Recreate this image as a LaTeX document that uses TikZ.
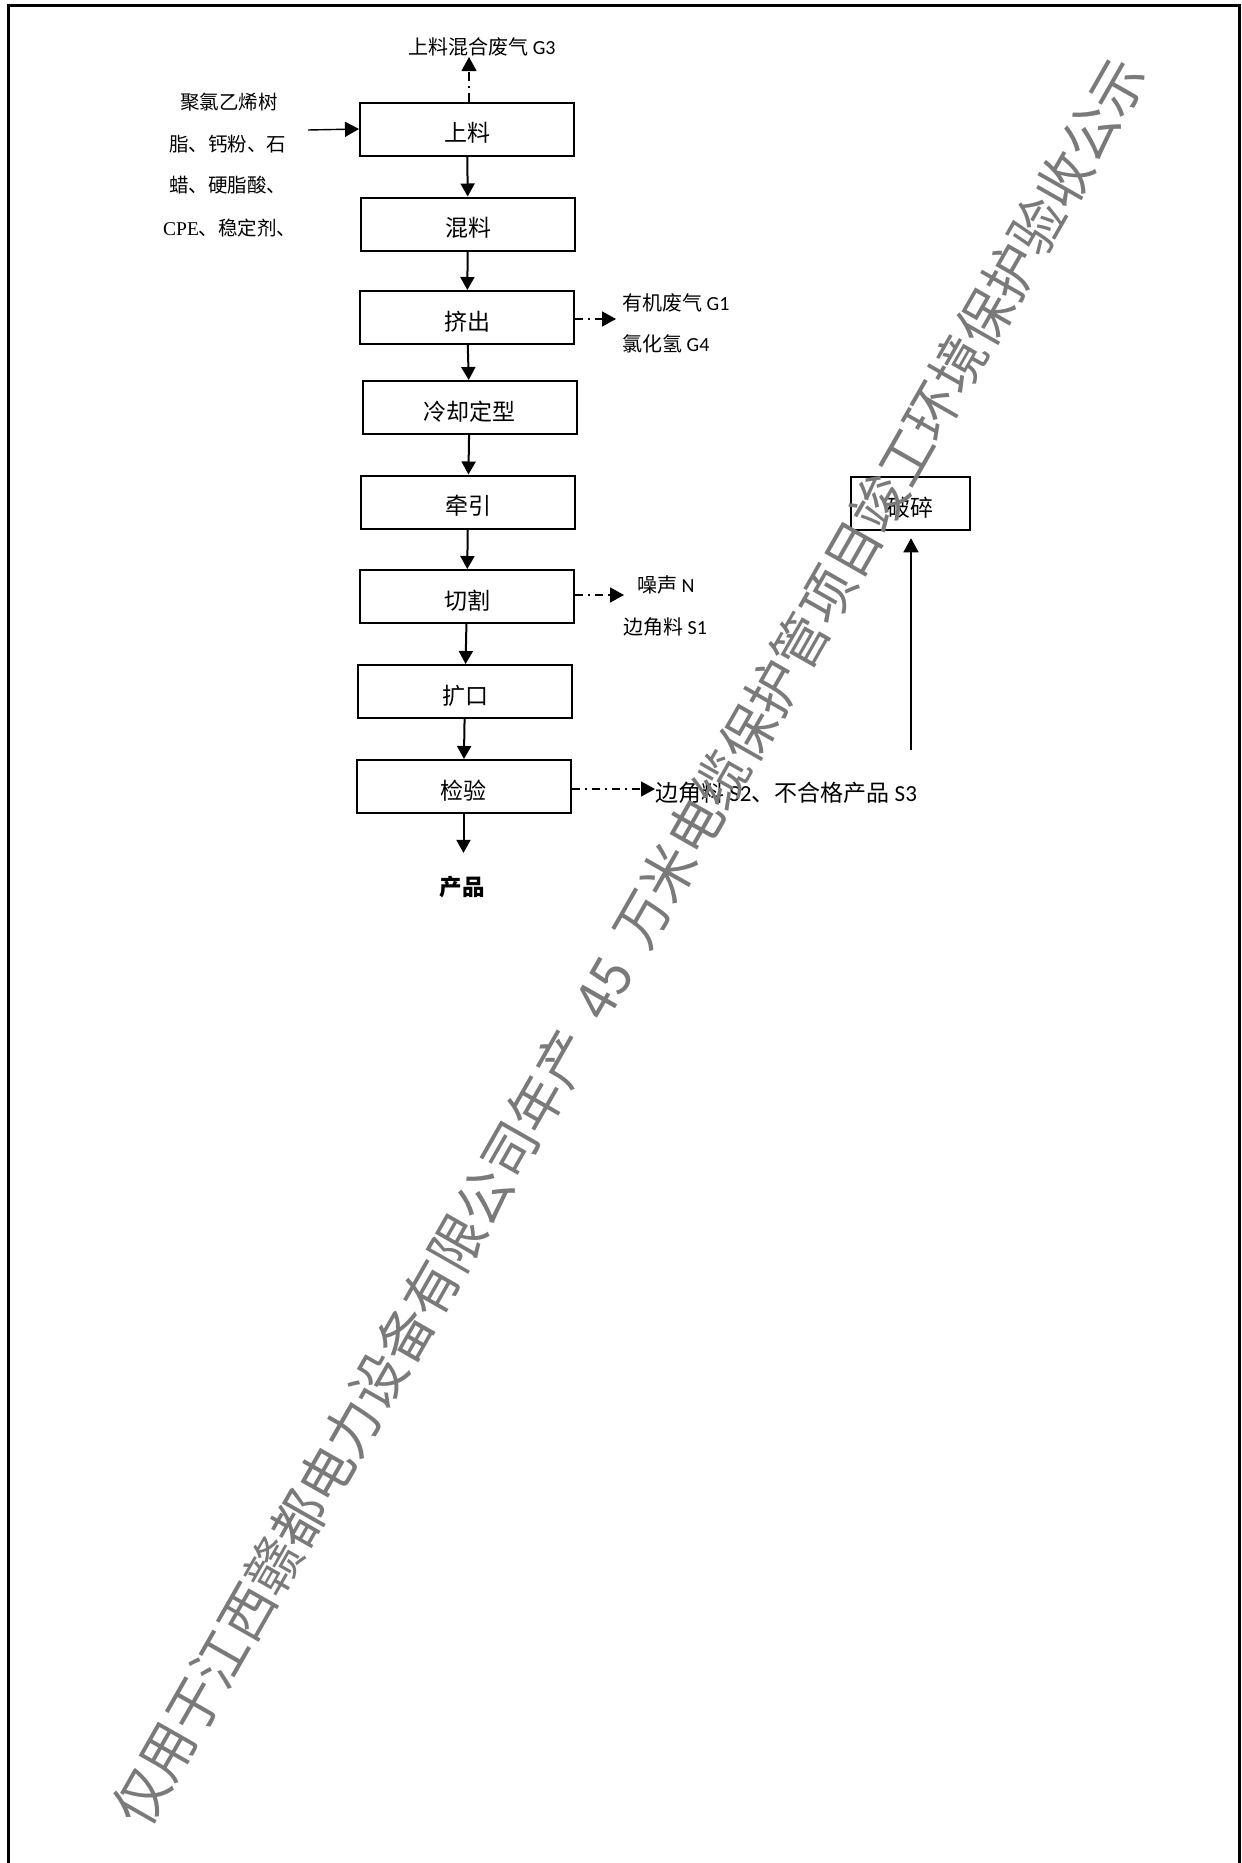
\documentclass[tikz,border=0pt]{standalone}
\usepackage{fontspec}
\setmainfont{Noto Sans CJK SC}
\newfontfamily\calfont{Carlito}
\newfontfamily\seriffont{Liberation Serif}
\usetikzlibrary{arrows.meta}
\definecolor{wmgray}{RGB}{122,122,122}
\newcommand\lowtext[1]{\raisebox{-4pt}[\height][\depth]{#1}}
\begin{document}
\begin{tikzpicture}[x=1pt,y=-1pt,
  proc/.style={draw, line width=2pt, minimum width=214pt, minimum height=53pt, inner sep=0pt, font=\fontsize{23}{27}\selectfont},
  flow/.style={line width=2pt, -{Triangle[length=13pt,width=14pt]}},
  thinflow/.style={line width=1.4pt, -{Triangle[length=14pt,width=15pt]}},
  emit/.style={line width=1.6pt, dash pattern=on 8pt off 5pt on 2pt off 5pt, -{Triangle[length=14pt,width=15pt]}},
  lbl/.style={font=\fontsize{20}{24}\selectfont, inner sep=0pt},
  inlbl/.style={font=\fontsize{19.5}{23}\selectfont, inner sep=0pt, anchor=west},
]
\useasboundingbox (0,0) rectangle (1242,1863);
\fill[white] (0,0) rectangle (1242,1863);
% frame
\draw[line width=3pt] (8.5,1863) -- (8.5,5.5) -- (1239.5,5.5) -- (1239.5,1863);

% process boxes
\node[proc] (s1) at (467,129) {\lowtext{上料}};
\node[proc] (s2) at (468,224) {\lowtext{混料}};
\node[proc] (s3) at (467,317.5) {\lowtext{挤出}};
\node[proc] (s4) at (469.5,407.5) {\lowtext{冷却定型}};
\node[proc] (s5) at (468,502) {\lowtext{牵引}};
\node[proc] (s6) at (467,596.5) {\lowtext{切割}};
\node[proc] (s7) at (465,691.5) {\lowtext{扩口}};
\node[proc] (s8) at (463.5,786.5) {\lowtext{检验}};
\node[proc, line width=2.5pt, minimum width=119pt] (cr) at (910.5,503.5) {\lowtext{破碎}};
\node[font=\fontsize{22.5}{26}\selectfont\bfseries, inner sep=0pt] (prod) at (462,887) {产品};

% main flow
\draw[flow] (s1) -- (s2);
\draw[flow] (s2) -- (s3);
\draw[flow] (s3) -- (s4);
\draw[flow] (s4) -- (s5);
\draw[flow] (s5) -- (s6);
\draw[flow] (s6) -- (s7);
\draw[flow] (s7) -- (s8);
\draw[flow, shorten >=23pt] (s8.south) -- (prod.north -| s8.south);

% raw material input
\node[inlbl] (in1) at (180,102) {聚氯乙烯树};
\node[inlbl] (in2) at (169,144) {脂、钙粉、石};
\node[inlbl] (in3) at (169,185) {蜡、硬脂酸、};
\node[inlbl] (in4) at (163,228) {{\seriffont CPE}、稳定剂、};
\coordinate (inp) at (308,130);
\draw[thinflow] (inp) -- (s1.west);

% G3
\node[lbl] (g3) at (482,47) {上料混合废气 {\calfont G3}};
\coordinate (g3tip) at (469,57);
\draw[emit, line width=1.1pt, dash pattern=on 9pt off 5pt on 2pt off 5pt] (s1.north -| g3tip) -- (g3tip);

% G1 / G4
\node[lbl, anchor=west] (g1) at (622,303) {有机废气 {\calfont G1}};
\node[lbl, anchor=west] (g4) at (622,344) {氯化氢 {\calfont G4}};
\coordinate (g1tip) at (616,319);
\draw[emit] (s3.east |- g1tip) -- (g1tip);

% N / S1
\node[lbl, anchor=west] (nz) at (637,585) {噪声 {\calfont N}};
\node[lbl, anchor=west] (sa) at (623,627) {边角料 {\calfont S1}};
\coordinate (ntip) at (624,595);
\draw[emit] (s6.east |- ntip) -- (ntip);

% S2 / S3
\node[font=\fontsize{23}{27}\selectfont, inner sep=0pt, anchor=west] (sb) at (655,793) {边角料 {\calfont S2}、不合格产品 {\calfont S3}};
\coordinate (stip) at (655,789);
\draw[emit] (s8.east |- stip) -- (stip);

% recycle to crusher
\coordinate (up0) at (911,750);
\draw[thinflow, shorten >=7pt] (up0) -- (cr.south -| up0);

% watermark
\node[rotate=60.3, xscale=0.95, text=wmgray, inner sep=0pt, font=\fontsize{56}{60}\selectfont] (wm) at (629,942) {仅用于江西赣都电力设备有限公司年产\hspace{0.45em}45\hspace{0.45em}万米电缆保护管项目竣工环境保护验收公示};
\end{tikzpicture}
\end{document}
